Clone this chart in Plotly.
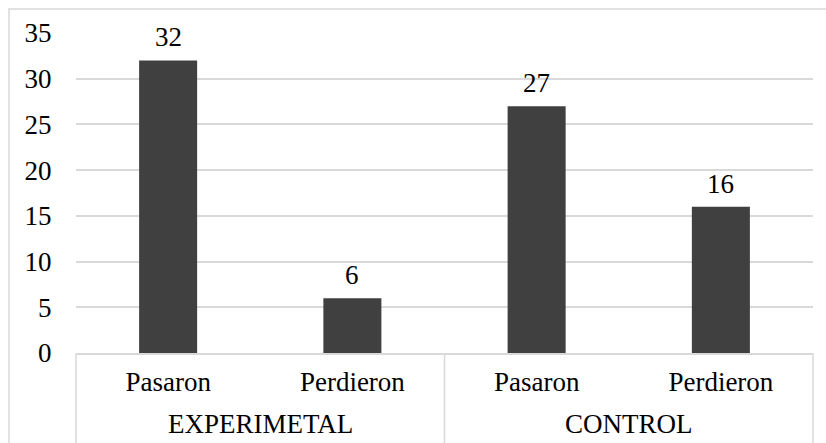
import plotly.graph_objects as go

groups = ["EXPERIMETAL", "EXPERIMETAL", "CONTROL", "CONTROL"]
outcomes = ["Pasaron", "Perdieron", "Pasaron", "Perdieron"]
values = [32, 6, 27, 16]
yticks = [0, 5, 10, 15, 20, 25, 30, 35]

FONT = "Liberation Serif"
GRID = "#d9d9d9"
SZ = 27

keys = [f"{g}|{o}" for g, o in zip(groups, outcomes)]

fig = go.Figure(go.Bar(
    x=keys,
    y=values,
    marker=dict(color="#404040", line=dict(width=0)),
    cliponaxis=False,
    hoverinfo="skip",
))

labels = [dict(x=k, y=v, xref="x", yref="y", text=str(v), showarrow=False,
               yanchor="bottom", yshift=6, font=dict(family=FONT, size=SZ, color="#000000"))
          for k, v in zip(keys, values)]

group_names = list(dict.fromkeys(groups))
group_labels = []
for g in group_names:
    idx = [i for i, gg in enumerate(groups) if gg == g]
    group_labels.append(dict(x=sum(idx) / len(idx), y=-0.222, xref="x", yref="paper",
                             text=g, showarrow=False, yanchor="middle",
                             font=dict(family=FONT, size=SZ, color="#000000")))

divs = [dict(type="line", xref="paper", yref="paper", x0=xp, x1=xp, y0=0, y1=-0.3,
             line=dict(color=GRID, width=1.5)) for xp in (0, 0.5, 1)]

fig.update_layout(
    width=826, height=443,
    margin=dict(l=76, r=13, t=33, b=90, autoexpand=False),
    paper_bgcolor="white", plot_bgcolor="white",
    font=dict(family=FONT, size=SZ, color="#000000"),
    bargap=0.685,
    showlegend=False,
    annotations=labels + group_labels,
    xaxis=dict(
        type="category",
        tickvals=keys, ticktext=outcomes,
        showline=True, linecolor=GRID, linewidth=1.5,
        ticks="outside", ticklen=4, tickcolor="rgba(0,0,0,0)",
        tickfont=dict(family=FONT, size=SZ, color="#000000"),
        showgrid=False, automargin=False,
    ),
    yaxis=dict(
        range=[0, 35], tickvals=yticks,
        showgrid=True, gridcolor=GRID, gridwidth=1.5,
        zeroline=False, showline=False,
        ticks="outside", ticklen=18, tickcolor="rgba(0,0,0,0)",
        tickfont=dict(family=FONT, size=SZ, color="#000000"),
        automargin=False,
    ),
    shapes=[dict(
        type="rect", xref="paper", yref="paper",
        x0=(9 - 76) / 737, x1=1.2, y0=-0.6, y1=(443 - 9 - 90) / 320,
        line=dict(color=GRID, width=1.5), fillcolor="rgba(0,0,0,0)", layer="below",
    )] + divs,
)

fig.write_html("out.html", config={"displayModeBar": False},
               post_script="document.body.style.margin='0';")
